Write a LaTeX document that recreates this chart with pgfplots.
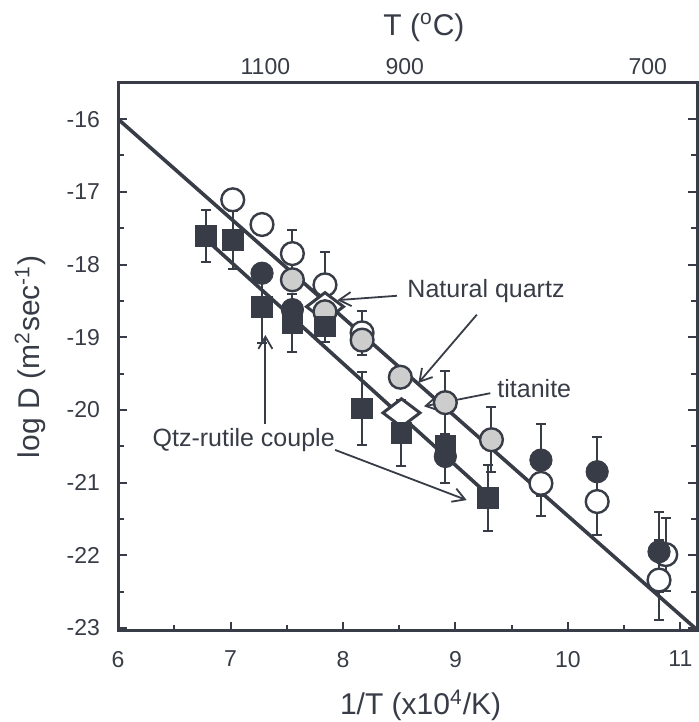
\documentclass[border=0pt]{standalone}
\usepackage{fontspec}
\setmainfont{Liberation Sans}
\usepackage{pgfplots}
\pgfplotsset{compat=1.18}
\usetikzlibrary{arrows.meta}
\definecolor{ink}{RGB}{55,60,70}
\definecolor{ballgray}{RGB}{205,205,205}
\tikzset{
  ann/.style={ink,line width=0.9pt,-{Straight Barb[length=6pt,width=7pt]}},
  lbl/.style={font=\fontsize{12.5}{14}\selectfont,text=ink,inner sep=0pt},
}
\pgfplotsset{
  ebar/.style={error bars/.cd, y dir=both, y explicit,
    error bar style={ink,line width=1pt},
    error mark options={rotate=90,ink,line width=1pt,mark size=2.5pt}},
}
% wide diamond for titanite
\pgfdeclareplotmark{wdiamond}{%
  \pgfpathmoveto{\pgfqpoint{0pt}{\pgfplotmarksize}}%
  \pgfpathlineto{\pgfqpoint{1.32\pgfplotmarksize}{0pt}}%
  \pgfpathlineto{\pgfqpoint{0pt}{-\pgfplotmarksize}}%
  \pgfpathlineto{\pgfqpoint{-1.32\pgfplotmarksize}{0pt}}%
  \pgfpathclose
  \pgfusepathqfillstroke}

% squares: Qtz-rutile couple
\pgfplotstableread{
x     y       e
6.78  -17.61  0.36
7.02  -17.66  0.40
7.28  -18.58  0.50
7.55  -18.81  0.40
7.84  -18.85  0.22
8.17  -19.98  0.50
8.52  -20.32  0.45
8.91  -20.50  0.50
9.29  -21.21  0.45
}\squares
\pgfplotstableread{
x     y       e
7.28  -18.12  0
7.55  -18.62  0
8.91  -20.64  0
9.76  -20.69  0.50
10.26 -20.85  0.48
10.81 -21.95  0.55
}\filled
\pgfplotstableread{
x     y       e
7.02  -17.11  0
7.28  -17.45  0
7.55  -17.85  0.33
7.84  -18.28  0.45
8.17  -18.94  0.30
9.76  -21.01  0.45
10.26 -21.26  0.46
10.87 -21.99  0.50
10.81 -22.34  0.55
}\opencirc
\pgfplotstableread{
x     y       e
7.55  -18.21  0
7.84  -18.65  0
8.17  -19.04  0
8.51  -19.55  0
8.91  -19.90  0.43
9.32  -20.41  0.45
}\graycirc

\begin{document}
\begin{tikzpicture}
\begin{axis}[
  scale only axis, width=289.5pt, height=274pt,
  xmin=6, xmax=11.15, ymin=-23.04, ymax=-15.5,
  clip=false,
  axis line style={line width=1.5pt,ink},
  xtick={6,7,8,9,10,11}, xticklabels={6,7,8,9,10,11},
  minor xtick={6.5,7.5,8.5,9.5,10.5},
  ytick={-23,-22,-21,-20,-19,-18,-17,-16},
  yticklabels={-23,-22,-21,-20,-19,-18,-17,-16},
  minor ytick={-22.5,-21.5,-20.5,-19.5,-18.5,-17.5,-16.5},
  xtick pos=bottom, ytick pos=both, yticklabel pos=left,
  tick align=inside,
  major tick length=4.5pt, minor tick length=3pt,
  tick style={ink,line width=1pt},
  ticklabel style={font=\fontsize{11.5}{13}\selectfont,text=ink},
  yticklabel style={xshift=-5.5pt},
  xticklabel style={yshift=-6.5pt},
]
\coordinate (bl) at (rel axis cs:0,0);
\coordinate (tr) at (rel axis cs:1,1);

% fitted lines
\addplot[ink,line width=1.8pt,no marks] coordinates {(6,-16) (11.13,-23.0)};
\addplot[ink,line width=1.8pt,no marks] coordinates {(6.8,-17.68) (9.3,-21.18)};

% open circles
\addplot[ink,only marks,mark=*,mark size=5.7pt,
  mark options={fill=white,draw=ink,line width=1.2pt},ebar]
  table[x=x,y=y,y error=e]{\opencirc};
% titanite diamonds
\addplot[ink,only marks,mark=wdiamond,mark size=7pt,
  mark options={fill=white,draw=ink,line width=1.5pt}]
  coordinates {(7.84,-18.58) (8.52,-20.04)};
% grey circles
\addplot[ink,only marks,mark=*,mark size=5.7pt,
  mark options={fill=ballgray,draw=ink,line width=1.2pt},ebar]
  table[x=x,y=y,y error=e]{\graycirc};
% filled circles
\addplot[ink,only marks,mark=*,mark size=5.6pt,
  mark options={fill=ink,draw=ink},ebar]
  table[x=x,y=y,y error=e]{\filled};
% squares
\addplot[ink,only marks,mark=square*,mark size=5.2pt,
  mark options={fill=ink,draw=ink},ebar]
  table[x=x,y=y,y error=e]{\squares};

% annotations
\node[lbl,anchor=west] at (axis cs:8.57,-18.37) {Natural quartz};
\draw[ann] (axis cs:8.48,-18.43) -- (axis cs:7.95,-18.49);
\draw[ann] (axis cs:9.19,-18.69) -- (axis cs:8.67,-19.63);
\node[lbl,anchor=west] at (axis cs:9.37,-19.70) {titanite};
\draw[ann] (axis cs:9.31,-19.77) -- (axis cs:8.72,-19.95);
\node[lbl,anchor=east] at (axis cs:7.93,-20.41) {Qtz-rutile couple};
\draw[ann] (axis cs:7.31,-20.2) -- (axis cs:7.31,-18.97);
\draw[ann] (axis cs:7.93,-20.55) -- (axis cs:9.10,-21.24);

% axis titles and top temperature scale
\node[font=\fontsize{15}{17}\selectfont,text=ink] at (axis cs:8.72,-14.74) {T (\textsuperscript{o}C)};
\node[font=\fontsize{11.5}{13}\selectfont,text=ink] at (axis cs:7.31,-15.28) {1100};
\node[font=\fontsize{11.5}{13}\selectfont,text=ink] at (axis cs:8.55,-15.28) {900};
\node[font=\fontsize{11.5}{13}\selectfont,text=ink] at (axis cs:10.71,-15.28) {700};
\node[font=\fontsize{15}{17}\selectfont,text=ink] at (axis cs:8.69,-24.06) {1/T (x10\textsuperscript{4}/K)};
\node[font=\fontsize{15}{17}\selectfont,text=ink,rotate=90] at (axis cs:5.22,-19.27) {log D (m\textsuperscript{2}sec\textsuperscript{-1})};
\end{axis}
\pgfresetboundingbox
\path[use as bounding box] ([shift={(-59pt,-45.5pt)}]bl) rectangle ([shift={(0.75pt,41.35pt)}]tr);
\end{tikzpicture}
\end{document}
